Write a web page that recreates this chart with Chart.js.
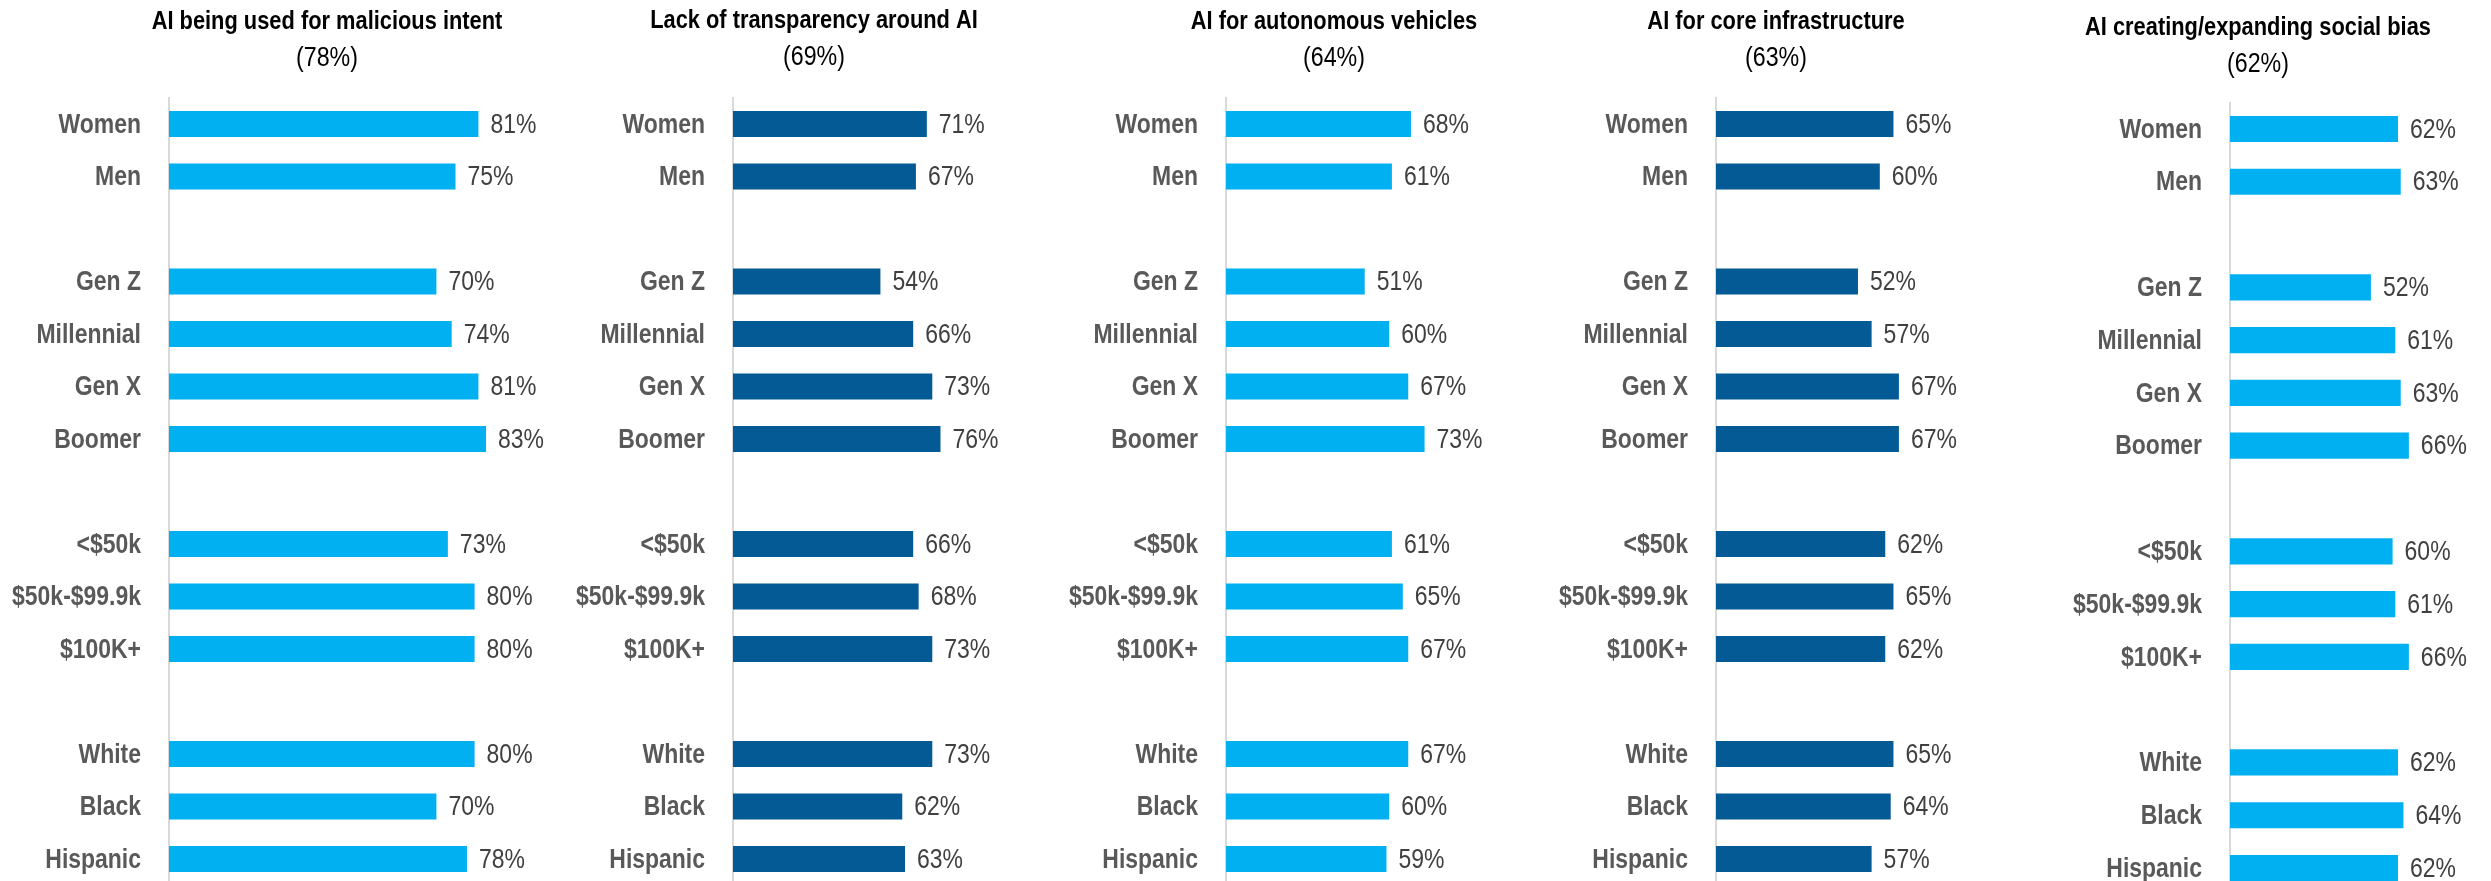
<!DOCTYPE html>
<html>
<head>
<meta charset="utf-8">
<script src="https://cdn.jsdelivr.net/npm/chart.js@4.4.1/dist/chart.umd.min.js"></script>
<style>
    html, body { margin: 0; padding: 0; background: #fff; overflow: hidden; }
    #wrap { position: relative; width: 2491px; height: 881px; overflow: hidden; }
    #wrap canvas { position: absolute; top: 0; }
</style>
</head>
<body>
<div id="wrap"></div>
<script>
// Datos del gráfico
const categories = ['Women', 'Men', 'Gen Z', 'Millennial', 'Gen X', 'Boomer',
    '<$50k', '$50k-$99.9k', '$100K+', 'White', 'Black', 'Hispanic'];
const groupSizes = [2, 4, 3, 3];

const titles = [
    'AI being used for malicious intent',
    'Lack of transparency around AI',
    'AI for autonomous vehicles',
    'AI for core infrastructure',
    'AI creating/expanding social bias'
];
const totals = ['(78%)', '(69%)', '(64%)', '(63%)', '(62%)'];

const malicious      = [81, 75, 70, 74, 81, 83, 73, 80, 80, 80, 70, 78];
const transparency   = [71, 67, 54, 66, 73, 76, 66, 68, 73, 73, 62, 63];
const autonomous     = [68, 61, 51, 60, 67, 73, 61, 65, 67, 67, 60, 59];
const infrastructure = [65, 60, 52, 57, 67, 67, 62, 65, 62, 65, 64, 57];
const socialBias     = [62, 63, 52, 61, 63, 66, 60, 61, 66, 62, 64, 62];

const seriesList = [malicious, transparency, autonomous, infrastructure, socialBias];

// Colores y fuente (no hay fuente estrecha: se comprime en horizontal)
const LIGHT = '#00b0f0';
const DARK = '#035a95';
const FONT = "'Liberation Sans', Arial, sans-serif";
const NARROW = 0.82;

// Posición de cada panel (píxeles de la página)
const panels = [
    { left: 0,    width: 560, axisX: 169,  pxPerPct: 3.82, top: 97.75, bottom: 885.25, titleX: 327,  titleY: 22, color: LIGHT },
    { left: 540,  width: 500, axisX: 733,  pxPerPct: 2.73, top: 97.75, bottom: 885.25, titleX: 814,  titleY: 21, color: DARK },
    { left: 1020, width: 490, axisX: 1226, pxPerPct: 2.72, top: 97.75, bottom: 885.25, titleX: 1334, titleY: 22, color: LIGHT },
    { left: 1500, width: 490, axisX: 1716, pxPerPct: 2.73, top: 97.75, bottom: 885.25, titleX: 1776, titleY: 22, color: DARK },
    { left: 1980, width: 511, axisX: 2230, pxPerPct: 2.71, top: 102.6, bottom: 894.4,  titleX: 2258, titleY: 28, color: LIGHT }
];
const CANVAS_H = 900;

// Insertar filas vacías entre grupos
function conHuecos(arr, relleno) {
    const out = [];
    let i = 0;
    groupSizes.forEach((n, g) => {
        if (g > 0) out.push(relleno);
        for (let k = 0; k < n; k++) out.push(arr[i++]);
    });
    return out;
}

// Texto comprimido horizontalmente
function textoEstrecho(ctx, texto, x, y, align, sx) {
    ctx.save();
    ctx.translate(x, y);
    ctx.scale(sx, 1);
    ctx.textAlign = align;
    ctx.textBaseline = 'middle';
    ctx.fillText(texto, 0, 0);
    ctx.restore();
}

// Etiquetas del eje Y y valores al final de cada barra
const rowText = {
    id: 'rowText',
    afterDatasetsDraw(chart) {
        const ctx = chart.ctx;
        const yScale = chart.scales.y;
        const meta = chart.getDatasetMeta(0);
        const data = chart.data.datasets[0].data;
        const labels = chart.data.labels;

        ctx.save();
        ctx.font = 'bold 28px ' + FONT;
        ctx.fillStyle = '#595959';
        labels.forEach((lab, i) => {
            if (!lab) return;
            textoEstrecho(ctx, lab, yScale.right - 28, yScale.getPixelForTick(i) + 1, 'right', NARROW);
        });

        ctx.font = 'normal 28px ' + FONT;
        ctx.fillStyle = '#404040';
        meta.data.forEach((bar, i) => {
            if (data[i] == null) return;
            textoEstrecho(ctx, data[i] + '%', bar.x + 12, bar.y + 1, 'left', 0.82);
        });
        ctx.restore();
    }
};

// Título de dos líneas de cada panel
const panelTitle = {
    id: 'panelTitle',
    afterDraw(chart, args, opts) {
        const ctx = chart.ctx;
        ctx.save();
        ctx.fillStyle = '#000000';
        ctx.font = 'bold 26px ' + FONT;
        textoEstrecho(ctx, opts.text, opts.x, opts.y, 'center', 0.84);
        ctx.font = 'normal 27px ' + FONT;
        textoEstrecho(ctx, opts.total, opts.x, opts.y + 37, 'center', 0.86);
        ctx.restore();
    }
};

const wrap = document.getElementById('wrap');
const rowLabels = conHuecos(categories, '');

panels.forEach((p, idx) => {
    const canvas = document.createElement('canvas');
    canvas.width = p.width;
    canvas.height = CANVAS_H;
    canvas.style.left = p.left + 'px';
    wrap.appendChild(canvas);

    const yWidth = p.axisX - p.left;
    const xMax = (p.width - yWidth) / p.pxPerPct;

    new Chart(canvas, {
        type: 'bar',
        data: {
            labels: rowLabels,
            datasets: [{
                data: conHuecos(seriesList[idx], null),
                backgroundColor: p.color,
                barPercentage: 0.62,
                categoryPercentage: 0.8
            }]
        },
        options: {
            indexAxis: 'y',
            responsive: false,
            animation: false,
            layout: { padding: { top: p.top, bottom: CANVAS_H - p.bottom, left: 0, right: 0 } },
            plugins: {
                legend: { display: false },
                tooltip: { enabled: false },
                title: { display: false },
                panelTitle: { text: titles[idx], total: totals[idx], x: p.titleX - p.left, y: p.titleY }
            },
            scales: {
                x: { display: false, min: 0, max: xMax },
                y: {
                    grid: { display: true, color: 'transparent', drawTicks: false },
                    border: { display: true, color: '#d9d9d9', width: 2 },
                    ticks: { display: false },
                    afterFit(scale) { scale.width = yWidth; }
                }
            }
        },
        plugins: [rowText, panelTitle]
    });
});
</script>
</body>
</html>
